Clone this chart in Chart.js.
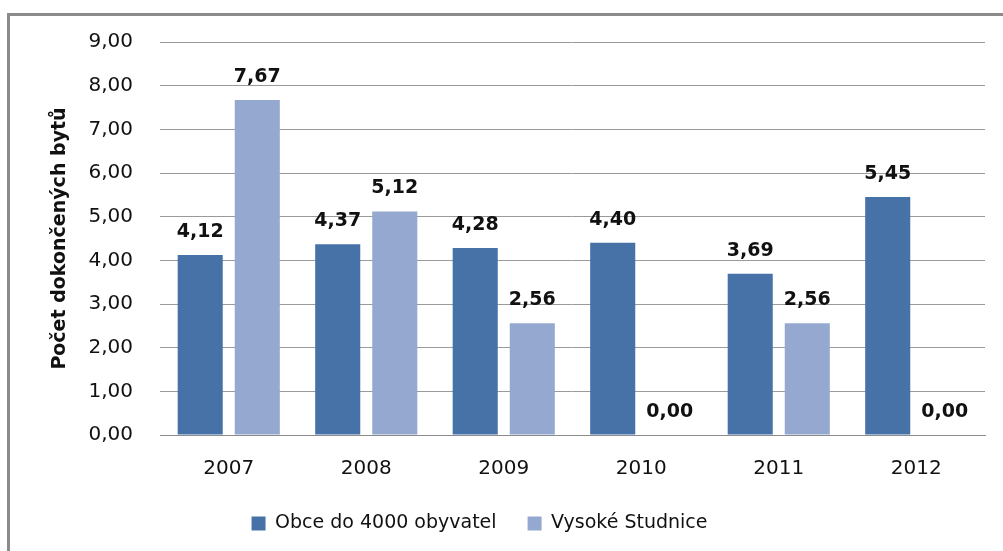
<!DOCTYPE html>
<html>
<head>
<meta charset="utf-8">
<script src="https://cdn.jsdelivr.net/npm/chart.js@4/dist/chart.umd.min.js"></script>
<style>
    html, body { margin: 0; padding: 0; background: #fff; }
    #wrap { position: relative; width: 1003px; height: 551px; overflow: hidden; }
    #frame {
        position: absolute; left: 7px; top: 13px; width: 1010px; height: 560px;
        border: 3px solid #8a8a8a; box-sizing: border-box;
    }
    #wrap canvas { position: absolute; left: 0; top: 0; }
</style>
</head>
<body>
<div id="wrap">
    <div id="frame"></div>
    <canvas id="chart" width="1003" height="551"></canvas>
</div>
<script>
// Počet dokončených bytů (na 1000 obyvatel)
const roky = ['2007', '2008', '2009', '2010', '2011', '2012'];
const obceDo4000 = [4.12, 4.37, 4.28, 4.40, 3.69, 5.45];
const vysokeStudnice = [7.67, 5.12, 2.56, 0.00, 2.56, 0.00];
const osaY = [0, 1, 2, 3, 4, 5, 6, 7, 8, 9];

const fmt = v => v.toFixed(2).replace('.', ',');

// Popisky hodnot nad sloupci
const hodnotyPlugin = {
    id: 'hodnoty',
    afterDatasetsDraw(chart) {
        const ctx = chart.ctx;
        ctx.save();
        ctx.font = 'bold 19px "DejaVu Sans"';
        ctx.fillStyle = '#111';
        ctx.textAlign = 'center';
        ctx.textBaseline = 'alphabetic';
        chart.data.datasets.forEach((ds, i) => {
            chart.getDatasetMeta(i).data.forEach((bar, j) => {
                ctx.fillText(fmt(ds.data[j]), bar.x, bar.y - 18);
            });
        });
        ctx.restore();
    }
};

// legenda je posunutá trochu doleva od středu
const posunLegendy = {
    id: 'posunLegendy',
    afterLayout(chart) {
        const lg = chart.legend;
        if (!lg) return;
        lg.left -= 36;
        lg.right -= 36;
    }
};

new Chart(document.getElementById('chart'), {
    type: 'bar',
    data: {
        labels: roky,
        datasets: [
            {
                label: 'Obce do 4000 obyvatel',
                data: obceDo4000,
                backgroundColor: '#4672a8',
                borderWidth: 0
            },
            {
                label: 'Vysoké Studnice',
                data: vysokeStudnice,
                backgroundColor: '#95a9d0',
                borderWidth: 0
            }
        ]
    },
    options: {
        responsive: false,
        animation: false,
        devicePixelRatio: 1,
        categoryPercentage: 0.83,
        barPercentage: 0.79,
        layout: { padding: { left: 46, right: 18, top: 42, bottom: 8 } },
        plugins: {
            legend: {
                position: 'bottom',
                labels: {
                    boxWidth: 14,
                    boxHeight: 14,
                    padding: 31,
                    color: '#111',
                    font: { family: 'DejaVu Sans', size: 19 }
                }
            },
            tooltip: { enabled: false }
        },
        scales: {
            x: {
                grid: { display: false },
                border: { color: '#8c8c8c', width: 1 },
                ticks: {
                    color: '#111',
                    padding: 14,
                    font: { family: 'DejaVu Sans', size: 20 }
                },
                afterFit: s => { s.height = 48; }
            },
            y: {
                min: 0,
                max: 9,
                afterBuildTicks: s => { s.ticks = osaY.map(v => ({ value: v })); },
                grid: { color: '#9a9a9a', drawTicks: false },
                border: { display: false },
                ticks: {
                    color: '#111',
                    padding: 27,
                    font: { family: 'DejaVu Sans', size: 20 }, 
                    callback: v => fmt(v)
                },
                title: {
                    display: true,
                    text: 'Počet dokončených bytů',
                    color: '#111',
                    padding: { top: 3, bottom: 0 },
                    font: { family: 'DejaVu Sans', size: 19, weight: 'bold' }
                },
                afterFit: s => { s.width = 114; }
            }
        }
    },
    plugins: [hodnotyPlugin, posunLegendy]
});
</script>
</body>
</html>
